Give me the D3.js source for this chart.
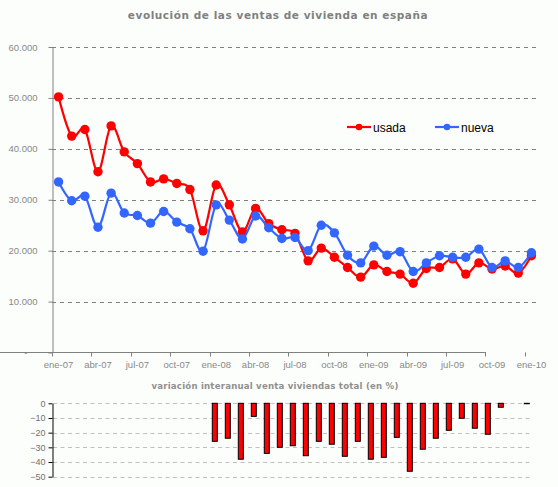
<!DOCTYPE html>
<html lang="es">

<head>
	<meta charset="UTF-8">
	<title>evolución de las ventas de vivienda en españa</title>
	<script src="https://cdn.jsdelivr.net/npm/d3@7/dist/d3.min.js"></script>
	<style>
		body { margin: 0; background: #fcfefc; }
		svg { display: block; font-family: "Liberation Sans", Arial, sans-serif; }
	</style>
</head>

<body>
	<div id="chart"></div>
	<script>
		// months on the x axis (one per point)
		const months = ["ene-07", "feb-07", "mar-07", "abr-07", "may-07", "jun-07", "jul-07", "ago-07", "sep-07", "oct-07", "nov-07", "dic-07",
			"ene-08", "feb-08", "mar-08", "abr-08", "may-08", "jun-08", "jul-08", "ago-08", "sep-08", "oct-08", "nov-08", "dic-08",
			"ene-09", "feb-09", "mar-09", "abr-09", "may-09", "jun-09", "jul-09", "ago-09", "sep-09", "oct-09", "nov-09", "dic-09",
			"ene-10"];
		const usada = [50200, 42500, 43800, 35500, 44500, 39400, 37100, 33500, 34100, 33200, 32000, 23900,
			32900, 29000, 23700, 28300, 25300, 24100, 23400, 18000, 20500, 18700, 16700, 14800,
			17200, 15900, 15400, 13600, 16500, 16700, 18400, 15400, 17600, 16400, 17000, 15600,
			19000];
		const nueva = [33500, 29800, 30700, 24600, 31300, 27400, 26900, 25400, 27700, 25600, 24300, 19900,
			29000, 26000, 22300, 26800, 24500, 22400, 22600, 20000, 25000, 23500, 19100, 17600,
			20900, 19100, 19800, 15900, 17600, 19000, 18700, 18700, 20300, 16700, 18000, 16700,
			19600];
		// variación interanual (%), sin dato en 2007
		const variacion = [null, null, null, null, null, null, null, null, null, null, null, null,
			-25.9, -23.8, -38.1, -8.9, -34.1, -30.0, -28.9, -35.7, -25.9, -27.9, -36.1, -25.9,
			-38.1, -36.8, -23.2, -46.3, -31.3, -23.8, -18.4, -10.2, -17.0, -21.1, -2.7, null,
			-0.3];
		const yTicks = [0, 10000, 20000, 30000, 40000, 50000, 60000];
		const barTicks = [0, -10, -20, -30, -40, -50];
		const tickMonths = months.filter((m, i) => i % 3 === 0);

		const width = 558, height = 487;
		const colors = { usada: "#ff0000", nueva: "#3366ff" };

		const svg = d3.select("#chart").append("svg")
			.attr("width", width)
			.attr("height", height);

		svg.append("rect").attr("width", width).attr("height", height).attr("fill", "#fcfefc");

		// ---- main chart ----
		const x = d3.scaleBand().domain(months).range([52, 538]);
		const y = d3.scaleLinear().domain([0, 60000]).range([352.5, 47]);
		const fmt = d3.format(",.0f");
		const esFmt = v => v === 0 ? "-" : fmt(v).replace(/,/g, ".");

		svg.append("text")
			.attr("x", 278).attr("y", 19)
			.attr("text-anchor", "middle")
			.attr("font-family", "DejaVu Sans, Verdana, sans-serif")
			.attr("font-weight", "bold")
			.attr("font-size", 10.5)
			.attr("letter-spacing", 0.55)
			.attr("fill", "#808080")
			.text("evolución de las ventas de vivienda en españa");

		// gridlines
		svg.append("g").selectAll("line")
			.data(yTicks.filter(d => d > 0))
			.join("line")
			.attr("x1", 52).attr("x2", 538)
			.attr("y1", d => Math.round(y(d)) + 0.5).attr("y2", d => Math.round(y(d)) + 0.5)
			.attr("stroke", "#808080")
			.attr("stroke-dasharray", "4,4");

		const yAxis = svg.append("g")
			.attr("transform", "translate(52.5,0)")
			.call(d3.axisLeft(y).tickValues(yTicks).tickFormat(esFmt).tickSize(4).tickPadding(11).tickSizeOuter(0));
		yAxis.selectAll("text").filter(d => d === 0).attr("x", -25);

		const xAxis = svg.append("g")
			.attr("transform", "translate(0,352.5)")
			.call(d3.axisBottom(x).tickValues(tickMonths).tickSize(0).tickPadding(9).tickSizeOuter(0));
		// ticks on category boundaries
		xAxis.selectAll(".tick line").remove();
		xAxis.selectAll("line.bound")
			.data(tickMonths)
			.join("line")
			.attr("class", "bound")
			.attr("x1", d => Math.round(x(d)) + 0.5).attr("x2", d => Math.round(x(d)) + 0.5)
			.attr("y1", 0).attr("y2", 4)
			.attr("stroke", "#808080");
		xAxis.select(".domain").attr("d", "M-4.5,0H486");

		[yAxis, xAxis].forEach(a => {
			a.select(".domain").attr("stroke", "#808080");
			a.selectAll(".tick line").attr("stroke", "#808080");
			a.selectAll("text").attr("fill", "#888").attr("font-size", 9.5)
				.attr("font-family", "Liberation Sans, Arial, sans-serif");
		});

		const line = d3.line()
			.x((d, i) => x(months[i]) + x.bandwidth() / 2)
			.y(d => y(d))
			.curve(d3.curveCardinal.tension(0));

		[["usada", usada], ["nueva", nueva]].forEach(([name, values]) => {
			const g = svg.append("g");
			g.append("path")
				.attr("d", line(values))
				.attr("fill", "none")
				.attr("stroke", colors[name])
				.attr("stroke-width", 2.2);
			g.selectAll("circle")
				.data(values)
				.join("circle")
				.attr("cx", (d, i) => x(months[i]) + x.bandwidth() / 2)
				.attr("cy", d => y(d))
				.attr("r", 4.7)
				.attr("fill", colors[name]);
		});

		// legend
		const legend = svg.append("g").attr("transform", "translate(347,127)");
		[["usada", 0], ["nueva", 88]].forEach(([name, dx]) => {
			const lg = legend.append("g").attr("transform", `translate(${dx},0)`);
			lg.append("line").attr("x1", 0).attr("x2", 24).attr("stroke", colors[name]).attr("stroke-width", 2.2);
			lg.append("circle").attr("cx", 12).attr("r", 3.3).attr("fill", colors[name]);
			lg.append("text").attr("x", 26).attr("y", 4.5)
				.attr("font-size", 12).attr("fill", "#000").text(name);
		});

		// ---- bar chart ----
		const xb = d3.scaleBand().domain(months).range([52.3, 533.3]);
		const yb = d3.scaleLinear().domain([-50, 0]).range([476.7, 403.3]);

		svg.append("text")
			.attr("x", 275).attr("y", 389)
			.attr("text-anchor", "middle")
			.attr("font-family", "DejaVu Sans, Verdana, sans-serif")
			.attr("font-weight", "bold")
			.attr("font-size", 8.6)
			.attr("letter-spacing", 0.2)
			.attr("fill", "#909090")
			.text("variación interanual venta viviendas total (en %)");

		svg.append("g").selectAll("line")
			.data(barTicks)
			.join("line")
			.attr("x1", 53).attr("x2", 533)
			.attr("y1", d => Math.round(yb(d)) + 0.5).attr("y2", d => Math.round(yb(d)) + 0.5)
			.attr("stroke", "#c0c0c0")
			.attr("stroke-dasharray", "4,3.5");

		svg.append("g").selectAll("rect")
			.data(variacion.map((v, i) => ({ m: months[i], v })).filter(d => d.v !== null))
			.join("rect")
			.attr("x", d => xb(d.m) + xb.bandwidth() / 2 - 2.5)
			.attr("y", yb(0))
			.attr("width", 5)
			.attr("height", d => yb(d.v) - yb(0))
			.attr("fill", "#ff0000")
			.attr("stroke", "#000")
			.attr("stroke-width", 1);

		const barAxis = svg.append("g")
			.attr("transform", "translate(52.5,0)")
			.call(d3.axisLeft(yb).tickValues(barTicks).tickSize(4).tickPadding(3).tickSizeOuter(0));
		barAxis.select(".domain").attr("stroke", "#000");
		barAxis.selectAll(".tick line").attr("stroke", "#000");
		barAxis.selectAll("text").attr("fill", "#707070").attr("font-size", 9)
			.attr("font-family", "Liberation Sans, Arial, sans-serif");
	</script>
</body>

</html>
